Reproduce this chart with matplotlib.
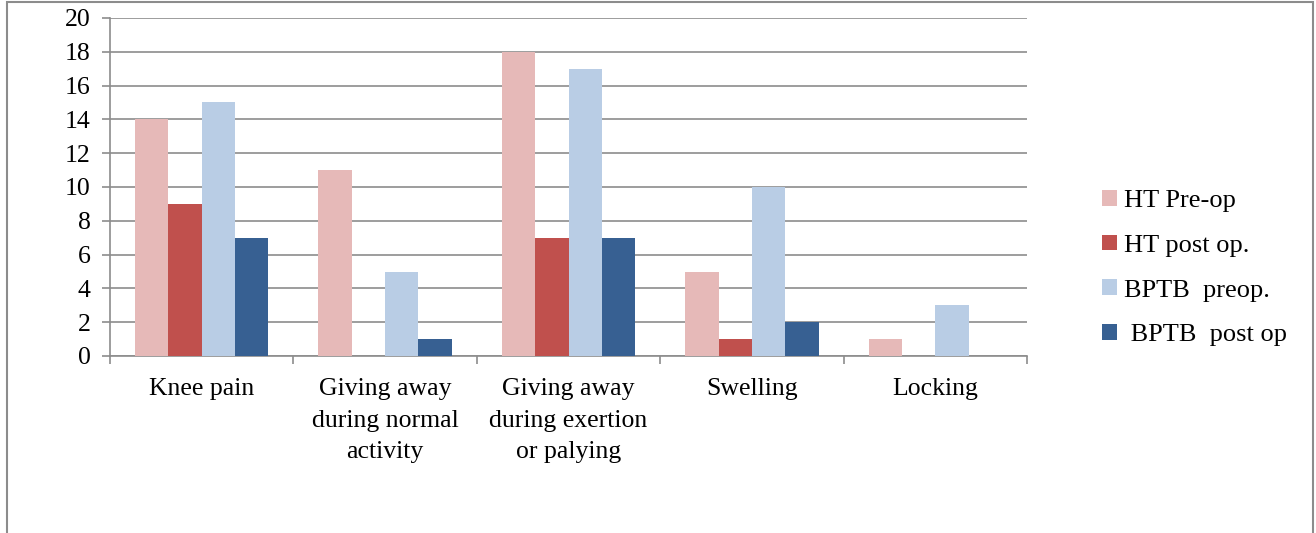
import numpy as np
import matplotlib
matplotlib.use("Agg")
import matplotlib.pyplot as plt
from matplotlib.patches import Rectangle

plt.rcParams["font.family"] = ["Liberation Serif", "DejaVu Serif"]

categories = ["Knee pain", "Giving away\nduring normal\nactivity",
              "Giving away\nduring exertion\nor palying", "Swelling", "Locking"]
series_names = ["HT Pre-op", "HT post op.", "BPTB  preop.", " BPTB  post op"]
ht_pre = [14, 11, 18, 5, 1]
ht_post = [9, 0, 7, 1, 0]
bptb_pre = [15, 5, 17, 10, 3]
bptb_post = [7, 1, 7, 2, 0]
colors = ["#E6B9B8", "#C0504D", "#B9CDE5", "#376092"]

fig = plt.figure(figsize=(13.16, 5.33), dpi=100)
ax = fig.add_axes([110 / 1316, 1 - 356 / 533, (1027 - 110) / 1316, (356 - 18) / 533])

x = np.arange(len(categories))
w = 0.182
for i, (vals, name) in enumerate(zip([ht_pre, ht_post, bptb_pre, bptb_post], series_names)):
    ax.bar(x + (i - 1.5) * w, vals, width=w, color=colors[i], label=name, zorder=3)

ax.set_xlim(-0.5, len(categories) - 0.5)
ax.set_ylim(0, 20)
ax.set_yticks(range(0, 21, 2))
ax.yaxis.grid(True, color="#8c8c8c", lw=1.2, zorder=0)
ax.tick_params(axis="y", length=6, color="#8c8c8c", width=1.2, labelsize=18.5, pad=8)
ax.set_xticks(x)
ax.set_xticklabels(categories, fontsize=18.5, linespacing=1.55)
ax.set_xticks(np.arange(-0.5, len(categories)), minor=True)
ax.tick_params(axis="x", which="major", length=0, pad=16)
ax.tick_params(axis="x", which="minor", length=6, color="#8c8c8c", width=1.2)
for s in ["top", "right"]:
    ax.spines[s].set_visible(False)
for s in ["left", "bottom"]:
    ax.spines[s].set_color("#8c8c8c")
    ax.spines[s].set_linewidth(1.2)

fig.legend(loc="center left", bbox_to_anchor=(1102 / 1316, 1 - 268 / 533),
           frameon=False, fontsize=19, handlelength=0.55, handleheight=0.55,
           handletextpad=0.3, labelspacing=0.85, borderpad=0, borderaxespad=0)

fig.patches.append(Rectangle((7 / 1316, -0.1), (1313 - 7) / 1316, 1.1 - 2 / 533,
                             transform=fig.transFigure, fill=False,
                             edgecolor="#8c8c8c", lw=1.5))

fig.savefig("out.png", dpi=100)
